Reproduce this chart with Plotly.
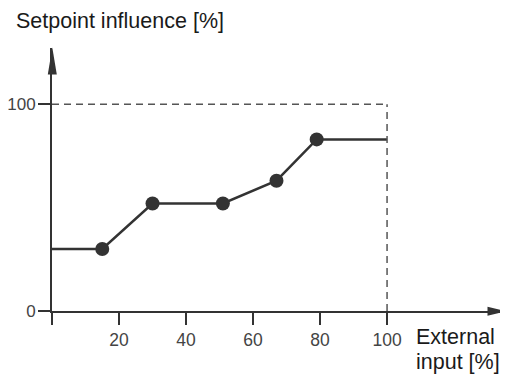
import plotly.graph_objects as go

# ── Data ──────────────────────────────────────────────────────────────────────
input_pct = [0, 15, 30, 51, 67, 79, 100]       # external input [%]
influence_pct = [30, 30, 52, 52, 63, 83, 83]   # setpoint influence [%]
x_ticks = [0, 20, 40, 60, 80, 100]
x_tick_text = ["", "20", "40", "60", "80", "100"]
y_ticks = [0, 100]
y_tick_text = ["0", "100"]
limit = 100

# ── Geometry ──────────────────────────────────────────────────────────────────
# page body has an 8px margin, so the figure is 8px smaller than the window
OFF = 8
W, H = 508 - OFF, 375 - OFF
L, R, T, B = 44, 2, 40, 64
PW, PH = W - L - R, H - T - B
X_MAX = 135.5
Y_MAX = 127.2


def px(x):
    return (x - OFF - L) / PW


def py(y):
    return (H - B - (y - OFF)) / PH


INK = "#333333"
FONT = "Liberation Sans, Arial, sans-serif"

fig = go.Figure()

# guide lines at 100 %
dash = dict(color="#555555", width=1.5, dash="7px,5px")
fig.add_shape(type="line", x0=0, x1=limit, y0=limit, y1=limit, line=dash)
fig.add_shape(type="line", x0=limit, x1=limit, y0=0, y1=limit, line=dash)

fig.add_trace(go.Scatter(
    x=input_pct, y=influence_pct, mode="lines",
    line=dict(color=INK, width=2.5), hoverinfo="skip",
))
fig.add_trace(go.Scatter(
    x=input_pct[1:-1], y=influence_pct[1:-1], mode="markers",
    marker=dict(color=INK, size=14), hoverinfo="skip",
))

# arrowheads (paper coords so they are not clipped)
x_tip, x_axis_y = 506.5, 311.3
fig.add_shape(type="path", xref="paper", yref="paper", fillcolor=INK, line=dict(width=0),
              path=(f"M {px(x_tip)},{py(x_axis_y)} "
                    f"L {px(x_tip - 19)},{py(x_axis_y - 4.5)} "
                    f"L {px(x_tip - 19)},{py(x_axis_y + 4.5)} Z"))
y_tip, y_axis_x = 47.5, 52.3
fig.add_shape(type="path", xref="paper", yref="paper", fillcolor=INK, line=dict(width=0),
              path=(f"M {px(y_axis_x)},{py(y_tip)} "
                    f"L {px(y_axis_x + 4.5)},{py(y_tip + 27)} "
                    f"L {px(y_axis_x - 4.5)},{py(y_tip + 27)} Z"))

title_font = dict(family=FONT, size=21.5, color="#1a1a1a")
fig.add_annotation(text="Setpoint influence [%]", xref="paper", yref="paper",
                   x=px(14), y=py(21), xanchor="left", yanchor="middle",
                   showarrow=False, font=title_font)
for line, y in [("External", 337), ("input [%]", 362)]:
    fig.add_annotation(text=line, xref="paper", yref="paper",
                       x=px(414), y=py(y), xanchor="left", yanchor="middle",
                       showarrow=False, font=title_font)

axis_common = dict(showgrid=False, zeroline=False, showline=True, linecolor=INK,
                   linewidth=2, ticks="outside", ticklen=12, tickwidth=2,
                   tickcolor=INK, automargin=False,
                   tickfont=dict(family=FONT, size=17.5, color="#444444"))
fig.update_xaxes(range=[0, X_MAX], tickvals=x_ticks, ticktext=x_tick_text, **axis_common)
fig.update_yaxes(range=[0, Y_MAX], tickvals=y_ticks, ticktext=y_tick_text, **axis_common)
fig.update_yaxes(ticklabelstandoff=-1, tickfont_size=17)

fig.update_layout(
    width=W, height=H,
    margin=dict(l=L, r=R, t=T, b=B, autoexpand=False),
    paper_bgcolor="white", plot_bgcolor="white",
    showlegend=False,
)

fig.write_html("out.html")
